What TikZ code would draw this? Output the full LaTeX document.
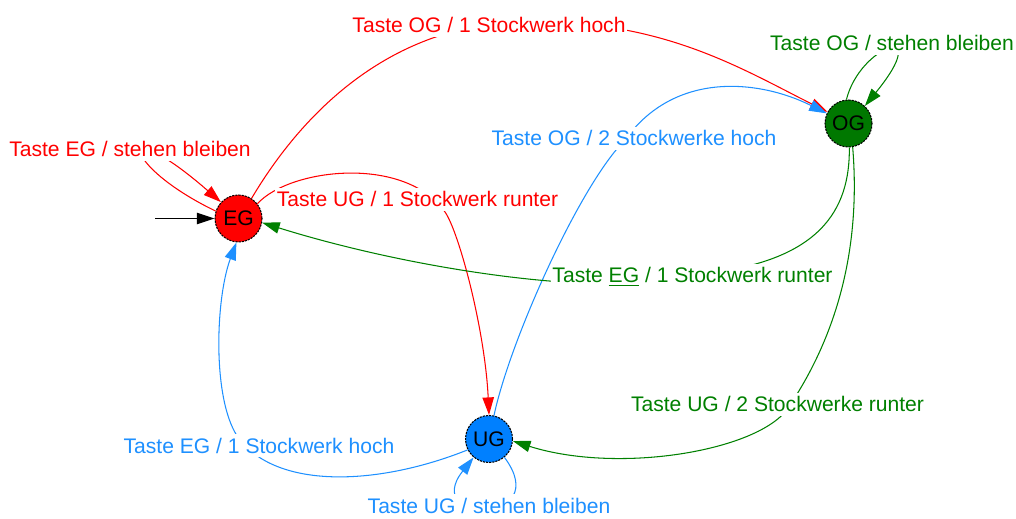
\documentclass[tikz,border=0pt]{standalone}
\usepackage{fontspec}
\setmainfont{Liberation Sans}
\usetikzlibrary{arrows.meta}
\definecolor{cred}{RGB}{255,0,0}
\definecolor{cgreen}{RGB}{0,128,0}
\definecolor{cblue}{RGB}{30,144,255}
\definecolor{fgreen}{RGB}{0,120,0}
\definecolor{fblue}{RGB}{0,128,255}
\begin{document}
\begin{tikzpicture}[x=0.02cm,y=-0.02cm,
  state/.style={circle, draw=black, line width=0.6pt, dash pattern=on 1.2pt off 0.6pt,
    minimum size=0.94cm, inner sep=0pt, font=\fontsize{12}{14}\selectfont},
  lbl/.style={anchor=base, fill=white, inner xsep=1pt, inner ysep=2pt, font=\fontsize{12}{14}\selectfont},
  edge/.style={line width=0.6pt, -{Triangle[length=10pt,width=6.5pt]}},
]
\useasboundingbox (0,0) rectangle (1016,519);

\node[state, fill=cred] (EG) at (238.5,218.5) {EG};
\node[state, fill=fgreen] (OG) at (848.5,123.5) {OG};
\node[state, fill=fblue] (UG) at (489,439) {UG};

\coordinate (init) at (155,218.5);
\draw[edge, black] (init) -- (EG);

% EG self loop
\draw[edge, cred] (EG.162) .. controls (120,165) and (115,110) .. (EG.137);
% EG -> OG
\draw[edge, cred] (EG.57) .. controls (310,100) and (400,25) .. (520,22)
  .. controls (660,18) and (740,68) .. (OG.151);
% EG -> UG
\draw[edge, cred] (EG.38) .. controls (290,168) and (405,155) .. (445,212)
  .. controls (459,232) and (485,330) .. (UG.90);
% UG -> OG
\draw[edge, cblue] (UG.78) .. controls (510,340) and (580,185) .. (625,140)
  .. controls (675,70) and (760,80) .. (OG.155);
% OG -> EG
\draw[edge, cgreen] (OG.-88) .. controls (850,210) and (820,262) .. (700,274)
  .. controls (620,300) and (420,272) .. (EG.-10);
% OG -> UG
\draw[edge, cgreen] (OG.-80) .. controls (862,260) and (830,345) .. (790,405)
  .. controls (765,450) and (620,475) .. (UG.-5);
% UG -> EG
\draw[edge, cblue] (UG.207) .. controls (380,485) and (280,490) .. (240,440)
  .. controls (212,405) and (215,300) .. (EG.-95);
% OG self loop
\draw[edge, cgreen] (OG.95) .. controls (860,45) and (935,20) .. (OG.47);
% UG self loop
\draw[edge, cblue] (UG.-50) .. controls (555,525) and (420,525) .. (UG.-130);

\node[lbl, text=cred] (l1) at (489,33) {Taste OG / 1 Stockwerk hoch};
\node[lbl, text=cgreen] (l2) at (892,51) {Taste OG / stehen bleiben};
\node[lbl, text=cred] (l3) at (130,157) {Taste EG / stehen bleiben};
\node[lbl, text=cred] (l4) at (417.5,207) {Taste UG / 1 Stockwerk runter};
\node[lbl, text=cblue] (l5) at (634,146) {Taste OG / 2 Stockwerke hoch};
\node[lbl, text=cgreen] (l6) at (692.5,283) {Taste \underline{EG} / 1 Stockwerk runter};
\node[lbl, text=cgreen] (l7) at (777.5,412) {Taste UG / 2 Stockwerke runter};
\node[lbl, text=cblue] (l8) at (259,453) {Taste EG / 1 Stockwerk hoch};
\node[lbl, text=cblue] (l9) at (489,513) {Taste UG / stehen bleiben};
\end{tikzpicture}
\end{document}
